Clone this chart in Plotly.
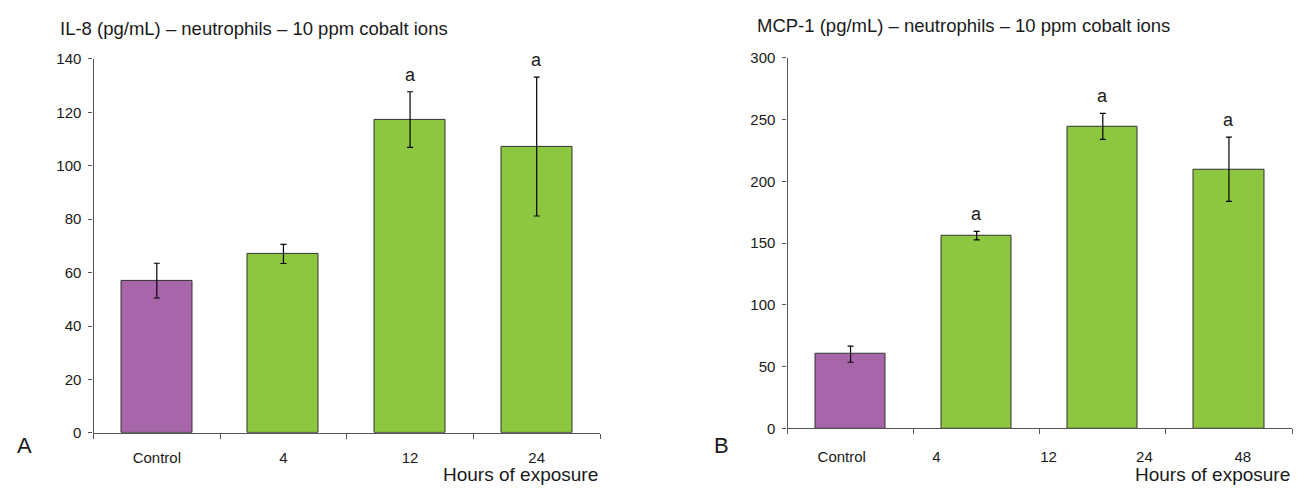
import plotly.graph_objects as go

# ---- data ----
a_categories = ["Control", "4", "12", "24"]
a_values = [57, 67, 117.3, 107.2]
a_errors = [6.5, 3.6, 10.4, 26.0]
a_signif = ["", "", "a", "a"]

b_categories = ["Control", "4", "24", "48"]
b_values = [60, 156, 244.5, 209.7]
b_errors = [6.5, 3.4, 10.5, 26.0]
b_signif = ["", "a", "a", "a"]
b_tick_labels = ["Control", "4", "12", "24", "48"]

a_title = "IL-8 (pg/mL) – neutrophils – 10 ppm cobalt ions"
b_title = "MCP-1 (pg/mL) – neutrophils – 10 ppm cobalt ions"
x_title = "Hours of exposure"

# ---- style / layout ----
PURPLE = "#a866aa"
GREEN = "#8dc63f"
TXT = "#1a1a1a"
AXC = "#555555"
FONT = "Liberation Sans, Arial, sans-serif"
W, H = 1298, 493
b_tick_pos = [-0.07, 0.68, 1.57, 2.33, 3.11]

colors_a = [PURPLE] + [GREEN] * (len(a_values) - 1)
colors_b = [PURPLE] + [GREEN] * (len(b_values) - 1)

fig = go.Figure()
xa = list(range(len(a_values)))
xb = list(range(len(b_values)))
errstyle = dict(type="data", color="black", thickness=1.2, width=3, visible=True)
fig.add_trace(go.Bar(x=xa, y=a_values, width=0.56, marker=dict(color=colors_a, line=dict(color="#333333", width=1)),
                     error_y=dict(array=a_errors, **errstyle), xaxis="x", yaxis="y", showlegend=False,
                     hoverinfo="skip"))
fig.add_trace(go.Bar(x=xb, y=b_values, width=0.556, marker=dict(color=colors_b, line=dict(color="#333333", width=1)),
                     error_y=dict(array=b_errors, **errstyle), xaxis="x2", yaxis="y2", showlegend=False,
                     hoverinfo="skip"))

def px(xp):
    return xp / W

def py(yp):
    return 1 - yp / H

axis_common = dict(showgrid=False, zeroline=False, showline=True, linecolor=AXC, linewidth=1.2,
                   tickfont=dict(family=FONT, size=15, color=TXT))
bounds = [-0.5, 0.5, 1.5, 2.5, 3.5]

fig.update_layout(
    width=W, height=H, margin=dict(l=0, r=0, t=0, b=0),
    paper_bgcolor="white", plot_bgcolor="white",
    font=dict(family=FONT, color=TXT),
    bargap=0,
    xaxis=dict(domain=[px(93.5), px(600)], range=[-0.5, 3.5], anchor="y",
               tickmode="array", tickvals=xa, ticktext=a_categories, ticks="", ticklabelstandoff=11,
               minor=dict(tickmode="array", tickvals=bounds, ticks="outside",
                          ticklen=5, tickcolor=AXC, tickwidth=1.2),
               **axis_common),
    yaxis=dict(domain=[py(439), py(51.7)], range=[0, 140], anchor="x", tickmode="linear", tick0=0, dtick=20,
               ticks="outside", ticklen=4, tickcolor=AXC, ticklabelstandoff=4, **axis_common),
    xaxis2=dict(domain=[px(787.5), px(1292)], range=[-0.5, 3.5], anchor="y2",
                tickmode="array", tickvals=b_tick_pos, ticktext=b_tick_labels, ticks="", ticklabelstandoff=15,
                minor=dict(tickmode="array", tickvals=bounds, ticks="outside",
                           ticklen=5, tickcolor=AXC, tickwidth=1.2),
                **axis_common),
    yaxis2=dict(domain=[py(434.3), py(50.5)], range=[0, 300], anchor="x2", tickmode="linear", tick0=0, dtick=50,
                ticks="outside", ticklen=4, tickcolor=AXC, ticklabelstandoff=4, **axis_common),
)

ann = []
ann.append(dict(text=a_title, x=px(58.3), y=py(20), xref="paper", yref="paper", xanchor="left", yanchor="middle",
                showarrow=False, font=dict(family=FONT, size=18.5, color=TXT)))
ann.append(dict(text=b_title, x=px(755), y=py(16.7), xref="paper", yref="paper", xanchor="left", yanchor="middle",
                showarrow=False, font=dict(family=FONT, size=18.5, color=TXT)))
for xr in ["x", "x2"]:
    ann.append(dict(text=x_title, x=1, y=py(482), xref=xr + " domain", yref="paper", xanchor="right", yanchor="middle",
                    showarrow=False, font=dict(family=FONT, size=19, color=TXT)))
ann.append(dict(text="A", x=px(24), y=py(452), xref="paper", yref="paper", xanchor="center", yanchor="middle",
                showarrow=False, font=dict(family=FONT, size=22, color=TXT)))
ann.append(dict(text="B", x=px(721), y=py(452), xref="paper", yref="paper", xanchor="center", yanchor="middle",
                showarrow=False, font=dict(family=FONT, size=22, color=TXT)))
for i, s in enumerate(a_signif):
    if s:
        ann.append(dict(text=s, x=xa[i], y=a_values[i] + a_errors[i], xref="x", yref="y", yanchor="bottom",
                        yshift=5, showarrow=False, font=dict(family=FONT, size=18, color=TXT)))
for i, s in enumerate(b_signif):
    if s:
        ann.append(dict(text=s, x=xb[i], y=b_values[i] + b_errors[i], xref="x2", yref="y2", yanchor="bottom",
                        yshift=5, showarrow=False, font=dict(family=FONT, size=18, color=TXT)))
fig.update_layout(annotations=ann)

fig.write_html("out.html", config={"displayModeBar": False},
               post_script="document.body.style.margin='0';document.body.style.overflow='hidden';")
